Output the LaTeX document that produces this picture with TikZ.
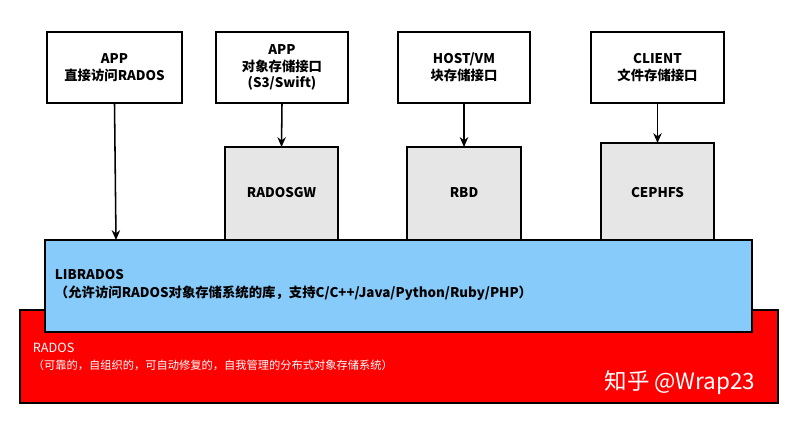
\documentclass[tikz,border=0pt]{standalone}
\usepackage{fontspec}
\setmainfont{Noto Sans CJK SC}
\usetikzlibrary{arrows.meta}
\definecolor{libblue}{HTML}{87CBFA}
\definecolor{radred}{HTML}{FF0000}
\definecolor{boxgray}{HTML}{E6E6E6}
\begin{document}
\begin{tikzpicture}[x=0.025cm,y=-0.025cm,
  top/.style={draw,thick,fill=white,align=center,font=\fontsize{9.5}{12}\selectfont\bfseries},
  svc/.style={draw,thick,fill=boxgray,font=\fontsize{9.5}{12}\selectfont\bfseries},
  arr/.style={line width=1.1pt,-{Stealth[length=7pt,width=6pt]}}]
\useasboundingbox (0,0) rectangle (794,422);
% layers
\draw[thick,fill=radred] (20,310) rectangle (778,403);
\node[anchor=north west,text=white,align=left,font=\fontsize{9}{12}\selectfont] (radt) at (28,338)
  {RADOS\\\fontsize{8}{10}\selectfont （可靠的，自组织的，可自动修复的，自我管理的分布式对象存储系统）};
\draw[thick,fill=libblue] (45,240) rectangle (752,332);
\coordinate (libtop) at (116,240);
\node[anchor=north west,align=left,font=\fontsize{9.5}{13}\selectfont\bfseries] (libt) at (50,264)
  {LIBRADOS\\（允许访问RADOS对象存储系统的库，支持C/C++/Java/Python/Ruby/PHP）};
% service boxes
\draw[svc] (225,147) rectangle (338,240);
\node[font=\fontsize{9.5}{12}\selectfont\bfseries] (gw) at (281.5,193) {RADOSGW};
\coordinate (gwtop) at (281.5,147);
\draw[svc] (407,147) rectangle (521,240);
\node[font=\fontsize{9.5}{12}\selectfont\bfseries] (rbd) at (464,193) {RBD};
\coordinate (rbdtop) at (464,147);
\draw[svc] (601,143) rectangle (714,240);
\node[font=\fontsize{9.5}{12}\selectfont\bfseries] (fs) at (657.5,193) {CEPHFS};
\coordinate (fstop) at (657.5,143);
% top boxes
\node[top,minimum width=135*0.025cm,minimum height=71*0.025cm] (a1) at (114.5,67.5) {APP\\直接访问RADOS};
\node[top,minimum width=132*0.025cm,minimum height=71*0.025cm] (a2) at (282,67.5) {APP\\对象存储接口\\(S3/Swift)};
\node[top,minimum width=132*0.025cm,minimum height=71*0.025cm] (a3) at (464,67.5) {HOST/VM\\块存储接口};
\node[top,minimum width=133*0.025cm,minimum height=71*0.025cm] (a4) at (657.5,67.5) {CLIENT\\文件存储接口};
\draw[arr] (a1.south) -- (libtop);
\draw[arr] (a2.south) -- (gwtop);
\draw[arr] (a3.south) -- (rbdtop);
\draw[arr] (a4.south) -- (fstop);
\node[text=white,font=\fontsize{16}{18}\selectfont] (wm) at (680,383) {知乎 @Wrap23};
\end{tikzpicture}
\end{document}
